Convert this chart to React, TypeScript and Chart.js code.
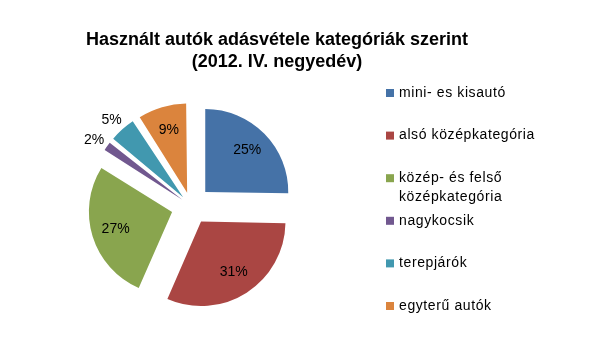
import React, { useEffect, useRef } from "react";
import { Chart, registerables } from "chart.js";

Chart.register(...registerables);

const TITLE_LINES = ["Használt autók adásvétele kategóriák szerint", "(2012. IV. negyedév)"];
const CATEGORIES: string[][] = [
  ["mini- es kisautó"],
  ["alsó középkategória"],
  ["közép- és felső", "középkategória"],
  ["nagykocsik"],
  ["terepjárók"],
  ["egyterű autók"],
];
const SHARES = [25, 31, 27, 2, 5, 9];
const COLORS = ["#4572A7", "#AA4643", "#89A54E", "#71588F", "#4198AF", "#DB843D"];

const FONT = '"Liberation Sans", Arial, sans-serif';
const EXPLODE = 20;
const TOTAL = SHARES.reduce((a, b) => a + b, 0);

// Chart.js translates an arc by offset/4 * (2 - sin(circumference)); invert it so every slice moves EXPLODE px
const offsetFor = (v: number) => {
  const circ = (2 * Math.PI * v) / TOTAL;
  return (4 * EXPLODE) / (2 - Math.sin(Math.min(Math.PI, circ)));
};

const overlay = {
  id: "overlay",
  afterDraw(chart: any) {
    const ctx: any = chart.ctx;
    const meta = chart.getDatasetMeta(0);
    ctx.save();
    ctx.fillStyle = "#000";
    ctx.textAlign = "center";
    ctx.textBaseline = "middle";
    ctx.font = `bold 18px ${FONT}`;
    TITLE_LINES.forEach((t, i) => ctx.fillText(t, 277, 40 + i * 22));

    ctx.font = `14px ${FONT}`;
    meta.data.forEach((arc: any, i: number) => {
      const { x, y, startAngle, endAngle, outerRadius } = arc.getProps(
        ["x", "y", "startAngle", "endAngle", "outerRadius"],
        true
      );
      const mid = (startAngle + endAngle) / 2;
      const outside = SHARES[i] < 6;
      const d = outside ? EXPLODE + outerRadius + 16 : EXPLODE + outerRadius * 0.71;
      ctx.fillText(`${SHARES[i]}%`, x + Math.cos(mid) * d, y + Math.sin(mid) * d + (outside ? 3 : 0));
    });

    ctx.textAlign = "left";
    ctx.letterSpacing = "0.6px";
    CATEGORIES.forEach((lines, i) => {
      const cy = 93 + i * 42.6;
      ctx.fillStyle = COLORS[i];
      ctx.fillRect(386, cy - 4, 8, 8);
      ctx.fillStyle = "#000";
      lines.forEach((l, j) => ctx.fillText(l, 399, cy + j * 19));
    });
    ctx.restore();
  },
};

export default function App() {
  const ref = useRef<HTMLCanvasElement | null>(null);
  useEffect(() => {
    document.body.style.margin = "0";
    const chart = new Chart(ref.current as HTMLCanvasElement, {
      type: "pie",
      data: {
        labels: CATEGORIES.map((l) => l.join(" ")),
        datasets: [
          {
            data: SHARES,
            backgroundColor: COLORS,
            borderWidth: 0,
            offset: SHARES.map(offsetFor),
            hoverOffset: 0,
          } as any,
        ],
      },
      options: {
        animation: false,
        responsive: false,
        devicePixelRatio: 1,
        radius: 83,
        layout: { padding: { left: 0, right: 208, top: 52, bottom: 0 } },
        plugins: {
          legend: { display: false },
          title: { display: false },
          tooltip: { enabled: false },
        },
        events: [],
      } as any,
      plugins: [overlay],
    });
    return () => chart.destroy();
  }, []);
  return (
    <div style={{ width: 590, height: 360, background: "#fff" }}>
      <canvas ref={ref} width={590} height={360} />
    </div>
  );
}
